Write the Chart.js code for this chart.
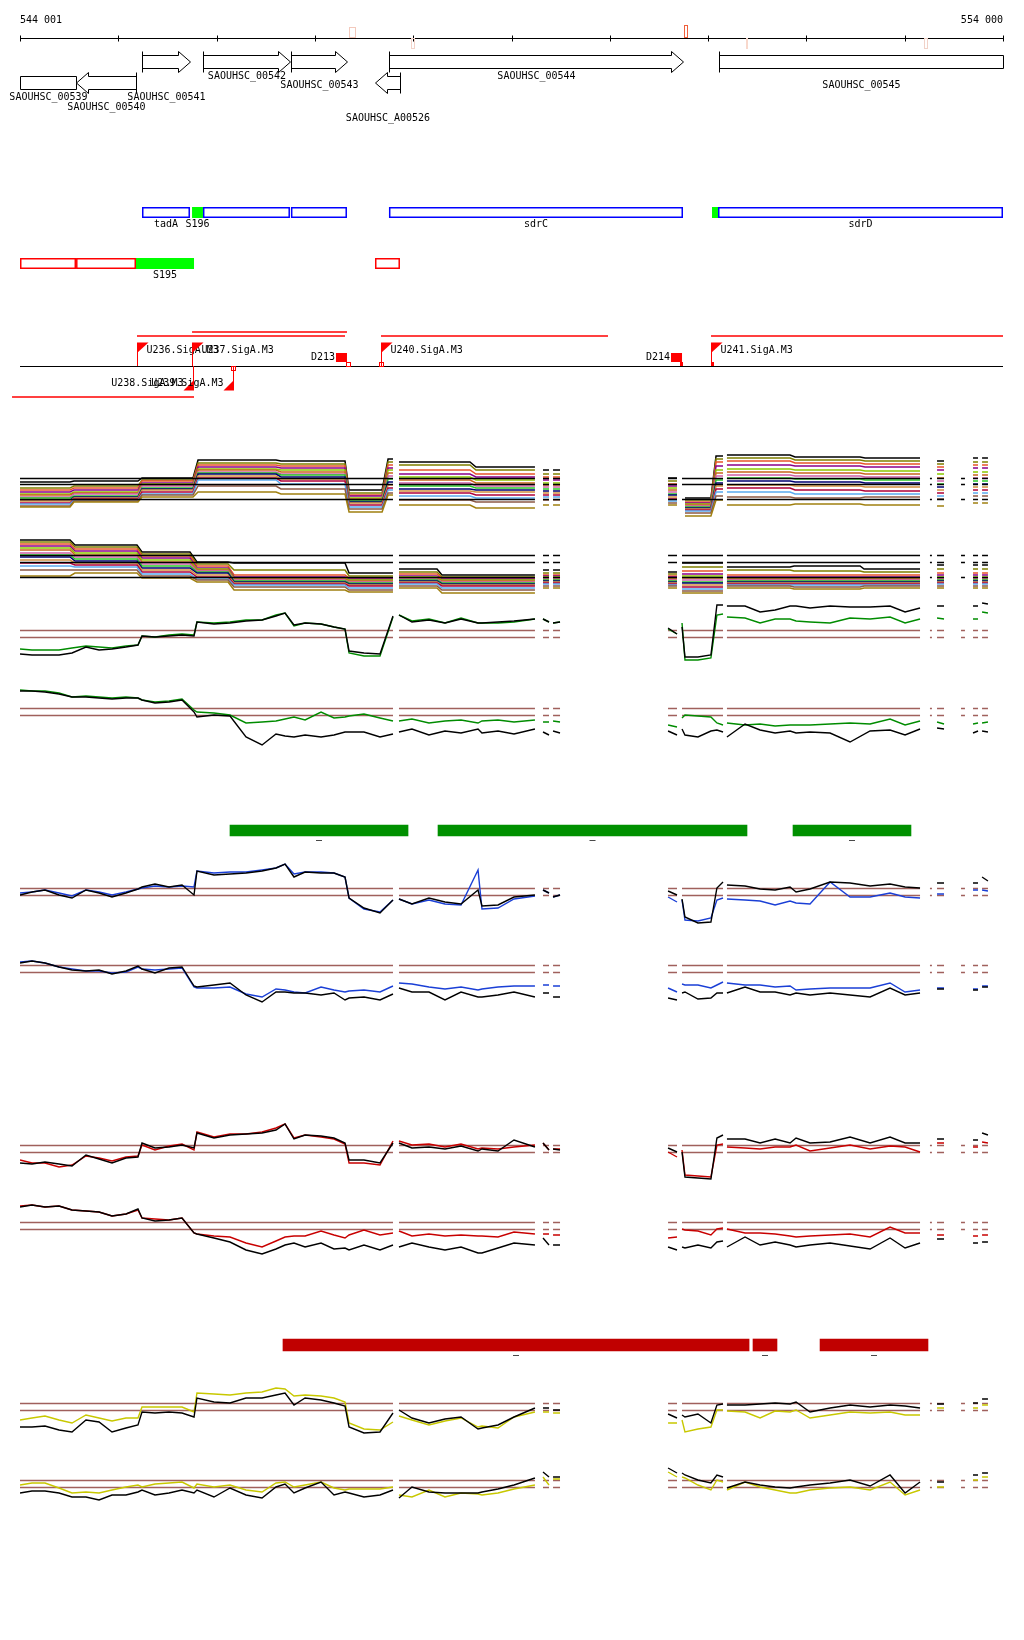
<!DOCTYPE html>
<html><head><meta charset="utf-8">
<script src="https://cdn.jsdelivr.net/npm/chart.js@4.4.1/dist/chart.umd.min.js"></script>
<style>html,body{margin:0;padding:0;background:#fff}#wrap{position:relative;width:1024px;height:1640px;background:#fff;overflow:hidden}</style>
</head><body><div id="wrap"></div>
<script>
// ---------------- DATA ----------------
const VIEW_START = 544001, VIEW_END = 554000;
const TICKS = [544001,545001,546001,547001,548001,549001,550001,551001,552001,553001,554000];
const TICK_LABELS = ['544 001','554 000'];
const RULER_MARK_START = [547348,547978,550755,551386,553196];
const RULER_MARK_END   = [547409,548008,550785,551407,553227];

const GENE_NAMES  = ['SAOUHSC_00539','SAOUHSC_00540','SAOUHSC_00541','SAOUHSC_00542','SAOUHSC_00543','SAOUHSC_A00526','SAOUHSC_00544','SAOUHSC_00545'];
const GENE_START  = [543800,544571,545242,545862,546757,547612,547754,551111];
const GENE_END    = [544571,545181,545730,546747,547327,547866,550745,554500];
const GENE_STRAND = ['.','-','+','+','+','-','+','+'];

const CDS_START = [545242,545751,545862,546757,547754,551040,551101];
const CDS_END   = [545730,545862,546747,547327,550745,551101,554000];
const CDS_KIND  = ['box','hit','box','box','box','hit','box'];
const CDS_LABEL = ['tadA','S196','','','sdrC','','sdrD'];

const UTR_START = [544001,544571,545181,547612];
const UTR_END   = [544571,545181,545771,547866];
const UTR_KIND  = ['box','box','hit','box'];
const UTR_LABEL = ['','','S195',''];

const TSS_NAME   = ['U236.SigA.M3','U237.SigA.M3','U240.SigA.M3','U241.SigA.M3','U238.SigA.M3','U239.SigA.M3'];
const TSS_POS    = [545191,545751,547673,551030,545761,546168];
const TSS_STRAND = ['+','+','+','+','-','-'];
const TERM_NAME  = ['D213','D214'];
const TERM_START = [547215,550623];
const TERM_END   = [547327,550735];
const TX_START   = [545751,545191,547673,551030,543920];
const TX_END     = [547327,547307,549982,554000,545771];
const TSS_MARK_POS = [547337,547673,550728,551040,546168];

const GREEN_BAR_START = [546137,548253,551864];
const GREEN_BAR_END   = [547948,551396,553064];
const GREEN_BAR_LABEL = ['–','–','–'];
const RED_BAR_START = [546676,551457,552139];
const RED_BAR_END   = [551417,551701,553237];
const RED_BAR_LABEL = ['–','–','–'];

// data-covered segments
const SEG_START = [544001,547856,549321,549423,550593,550735,551192,553257,553329,553573,553695,553787];
const SEG_END   = [547795,549239,549382,549494,550684,551152,553156,553277,553400,553613,553746,553847];

// probe positions for the profile tracks (null values = no data)
const POS = [
544001,544123,544255,544398,544530,544672,544805,544937,545079,545201,
545242,545374,545517,545649,545771,545801,545974,546137,546300,546463,
546605,546697,546788,546901,547063,547195,547307,547348,547500,547663,
547795,547826,547856,547988,548161,548324,548487,548660,548700,548863,
549026,549239,549280,549321,549382,549402,549423,549494,549901,550593,
550684,550715,550735,550765,550897,551029,551090,551152,551172,551192,
551376,551529,551682,551834,551895,552037,552241,552444,552648,552851,
553004,553156,553257,553329,553400,553563,553695,553746,553766,553787,
553847];

const G1 = [-12,-13,-13,-13,-11,-9,-10,-11,-9,-8, 1,0,2,3,2,15,14,15,17,17, 22,24,11,14,13,10,8,-16,-19,-19, 20,null,22,16,18,14,19,14,14,14, 15,18,null,18,15,null,14,15,null,8, 3,null,14,-23,-23,-21,22,23,null,20, 19,14,18,18,16,15,14,19,18,20, 14,18,null,19,18,null,18,18,null,25, 24];
const K1 = [-17,-18,-18,-18,-16,-10,-13,-12,-10,-8, 1,0,1,2,1,15,13,14,16,17, 21,24,12,14,13,10,8,-14,-16,-17, 21,null,22,15,17,14,18,14,14,15, 16,18,null,18,15,null,14,15,null,9, 3,null,10,-20,-20,-18,32,32,null,31, 31,25,27,31,31,29,31,30,30,31, 25,29,null,31,31,null,31,31,null,34, 33];
const G2 = [25,24,24,22,18,19,18,17,18,17, 15,13,14,16,5,3,2,0,-8,-7, -6,-4,-2,-5,3,-3,-2,-1,1,-3, -6,null,-6,-4,-8,-6,-5,-8,-6,-5, -7,-5,null,-7,-7,null,-6,-7,null,-10, -12,null,-3,0,-1,-2,-8,-10,null,-8, -10,-9,-11,-10,-10,-10,-9,-8,-9,-4, -10,-6,null,-7,-9,null,-9,-8,null,-8, -7];
const K2 = [24,24,23,21,18,18,17,16,17,17, 15,12,13,15,3,-2,0,-1,-22,-30, -19,-21,-22,-20,-22,-20,-17,-17,-17,-22, -19,null,-17,-14,-20,-16,-18,-14,-18,-16, -19,-14,null,-17,-20,null,-16,-18,null,-16, -20,null,-14,-20,-22,-16,-15,-17,null,-22, -9,-15,-18,-16,-18,-17,-18,-27,-16,-15, -20,-14,null,-13,-14,null,-18,-16,null,-16, -17];
const B1 = [2,3,5,2,-1,5,3,0,3,6, 7,9,8,9,8,24,22,23,23,25, 27,31,21,23,23,22,18,-3,-14,-17, -5,null,-4,-9,-5,-9,-10,25,-14,-13, -4,-1,null,5,2,null,-2,0,null,-2, -7,null,-5,-25,-26,-23,-5,-3,null,-4, -5,-6,-10,-6,-8,-9,13,-2,-2,2, -2,-3,null,1,1,null,5,5,null,5, 4];
const K5 = [0,3,5,0,-3,5,2,-2,2,6, 8,11,8,10,0,24,20,21,22,24, 27,31,18,23,22,22,18,-3,-13,-18, -5,null,-4,-9,-3,-7,-9,5,-11,-10, -2,0,null,5,2,null,-2,0,null,4, 0,null,-4,-22,-28,-27,7,13,null,10, 9,6,5,8,3,6,13,12,9,11, 8,7,null,12,12,null,12,12,null,18, 14];
const B2 = [10,11,9,5,3,1,1,-1,0,5, 3,2,3,4,-15,-16,-16,-15,-22,-25, -17,-18,-20,-21,-15,-18,-20,-19,-18,-20, -14,null,-11,-12,-15,-17,-15,-18,-17,-15, -14,-14,null,-13,-13,null,-14,-14,null,-16, -20,null,-12,-13,-13,-16,-13,-10,null,-11, -13,-13,-15,-14,-18,-17,-16,-16,-16,-11, -20,-18,null,-16,-16,null,-17,-17,null,-14, -14];
const K6 = [9,11,9,5,2,1,2,-2,1,6, 3,-1,4,5,-14,-15,-13,-11,-23,-30, -20,-20,-21,-21,-23,-21,-28,-26,-25,-28, -22,null,-16,-20,-20,-28,-20,-25,-25,-23, -20,-25,null,-21,-21,null,-25,-25,null,-26, -28,null,-21,-20,-27,-26,-21,-21,null,-21, -15,-20,-20,-23,-21,-23,-21,-23,-25,-16, -23,-21,null,-17,-17,null,-18,-18,null,-15, -15];
const R1 = [-8,-11,-11,-15,-13,-4,-6,-9,-5,-4, 7,2,6,8,2,20,15,18,18,20, 24,28,14,17,15,13,8,-11,-11,-13, 11,null,11,7,8,5,8,3,4,3, 5,7,null,9,2,null,3,3,null,0, -5,null,2,-23,-24,-25,7,8,null,5, 4,3,5,5,7,1,4,7,3,6, 5,0,null,9,9,null,5,5,null,10, 9];
const K7 = [-11,-12,-10,-12,-14,-3,-7,-11,-6,-5, 9,4,5,7,4,19,14,17,18,19, 22,28,13,17,16,14,9,-8,-8,-11, 9,null,9,4,5,3,6,1,3,1, 12,5,null,9,2,null,3,2,null,4, 0,null,0,-25,-26,-27,14,17,null,13, 13,9,13,9,14,9,10,15,9,15, 9,9,null,13,13,null,12,12,null,19, 17];
const R2 = [23,24,22,23,19,18,17,13,15,19, 11,10,9,11,-4,-5,-7,-8,-14,-18, -12,-8,-7,-7,-2,-6,-9,-6,-1,-6, -4,null,-2,-7,-5,-7,-6,-7,-7,-8, -3,-5,null,-5,-5,null,-6,-6,null,-9, -8,null,0,-1,-2,-6,0,1,null,0, -4,-4,-5,-7,-8,-7,-6,-5,-8,2, -4,-4,null,-6,-6,null,-7,-7,null,-6, -6];
const K8 = [22,24,22,23,19,18,17,13,15,20, 11,8,9,11,-4,-5,-9,-13,-21,-25, -20,-16,-14,-18,-14,-20,-19,-21,-16,-21, -16,null,-18,-14,-18,-21,-18,-24,-24,-19, -14,-16,null,-9,-16,null,-16,-16,null,-18, -21,null,-18,-19,-16,-19,-13,-12,null,-18, -8,-16,-13,-16,-18,-16,-14,-17,-20,-9, -19,-14,null,-10,-10,null,-14,-14,null,-13, -13];
const Y1 = [-10,-8,-6,-10,-13,-5,-8,-11,-8,-8, 3,3,3,3,-2,17,16,15,17,18, 22,21,14,15,14,12,8,-13,-19,-20, -12,null,-6,-10,-15,-11,-8,-17,-16,-18, -7,-2,null,-2,-2,null,-3,-3,null,-13, -13,null,-10,-22,-19,-17,0,0,null,-1, -2,-8,-1,-2,0,-8,-5,-2,-3,-2, -5,-5,null,2,2,null,2,2,null,5, 5];
const K9 = [-17,-17,-16,-20,-22,-10,-12,-22,-18,-15, -2,-3,-2,-3,-7,12,8,7,12,12, 15,17,5,12,10,7,4,-17,-23,-22, -3,null,0,-8,-13,-9,-7,-19,-18,-15, -7,2,null,2,2,null,0,0,null,-4, -8,null,-5,-7,-4,-13,5,6,null,5, 5,6,7,6,8,-2,2,5,3,5, 4,2,null,6,6,null,7,7,null,11, 11];
const Y2 = [2,4,4,-1,-6,-5,-6,-3,0,2, 0,3,4,5,-1,3,0,2,-3,-5, 4,5,0,2,5,-1,-3,-2,-2,-2, 0,null,-8,-10,-3,-10,-6,-7,-8,-6, -2,2,null,10,2,null,8,8,null,15, 10,null,10,9,2,-3,7,5,null,-3, 5,0,-3,-6,-6,-3,-1,0,-3,5, -8,-3,null,0,0,null,7,7,null,10, 10];
const K10 = [-6,-4,-4,-6,-10,-10,-13,-8,-8,-5, -3,-8,-6,-3,-6,-3,-10,-1,-8,-11, 0,3,-6,-1,5,-8,-5,-6,-10,-8, -3,null,-11,0,-5,-6,-6,-6,-5,-2, 2,9,null,15,10,null,10,10,null,19, 14,null,14,12,7,4,12,10,null,-1, 5,2,0,-1,0,2,4,7,1,12, -6,5,null,5,5,null,12,12,null,14, 14];

// multi-sample tracks: one level per region
const REG1_START = [544001,544550,545242,545812,546656,547348,547745,547856,548639,549321,549423,550593,550765,551081,551192,551885,552597,553329,553695,553787];
const REG1_END   = [544510,545201,545761,546605,547307,547684,547795,548578,549239,549382,549494,550684,551029,551152,551834,552546,553156,553400,553746,553847];
const REG1_SEG   = [0,0,0,0,0,0,0,1,1,2,3,4,5,5,6,6,6,7,8,9];
const MULTI1 = [
[17,18,21,39,38,9,40,37,32,29,29,21,1,43,44,42,41,38,41,41],
[11,13,19,36,35,6,37,34,29,25,25,18,-1,40,41,39,38,35,37,37],
[9,11,18,34,33,4,34,29,25,22,22,15,-3,37,38,36,35,32,34,34],
[7,9,16,32,31,3,31,25,22,19,19,13,-4,33,34,33,32,29,31,31],
[5,7,15,30,29,1,29,22,19,16,16,11,-5,29,30,29,28,25,27,27],
[4,6,14,29,27,0,26,19,16,14,14,9,-6,26,27,26,25,21,24,24],
[2,5,13,27,25,-1,23,16,13,12,12,7,-7,23,24,23,22,18,21,21],
[1,3,11,26,24,-2,20,13,11,10,10,5,-8,19,21,20,19,15,18,18],
[-1,2,10,25,22,-3,17,10,9,8,8,4,-9,16,18,17,16,12,15,15],
[-2,1,9,23,20,-4,14,8,7,6,6,2,-10,13,14,13,12,9,12,12],
[-4,0,7,21,18,-6,11,6,4,4,4,0,-11,10,11,9,8,6,9,9],
[-5,-1,5,19,15,-8,9,3,1,2,2,-2,-12,7,7,5,5,3,6,6],
[-7,-2,4,13,10,-10,6,-1,-3,-1,-1,-4,-14,3,2,1,2,0,3,3],
[-8,-3,2,7,5,-13,4,-6,-9,-6,-6,-6,-17,-1,-6,-5,-6,-7,-4,-4]];
const REG2_START = [544001,544560,545242,545801,546178,547348,547856,548293,549321,549423,550593,550735,551192,551875,552587,553329,553695,553787];
const REG2_END   = [544510,545191,545730,546117,547307,547795,548243,549239,549382,549494,550684,551152,551834,552546,553156,553400,553746,553847];
const REG2_SEG   = [0,0,0,0,0,0,1,1,2,3,4,5,6,6,6,7,8,9];
const MULTI2 = [
[37,32,25,15,14,4,8,2,7,7,5,14,10,11,8,12,12,12],
[35,30,23,13,7,1,5,0,4,4,3,10,7,6,5,8,8,8],
[33,28,21,11,2,-1,3,-1,2,2,1,6,2,2,2,4,4,4],
[31,26,19,9,0,-2,1,-2,1,1,0,3,0,0,0,2,2,2],
[29,24,17,8,-1,-3,0,-3,0,0,-1,1,-1,-1,-1,0,0,0],
[27,22,15,7,-2,-4,-1,-4,-1,-1,-2,-1,-2,-2,-2,-1,-1,-1],
[24,20,13,6,-3,-5,-2,-5,-2,-2,-3,-3,-3,-3,-3,-2,-2,-2],
[22,18,11,5,-4,-6,-3,-6,-3,-3,-4,-5,-4,-4,-4,-3,-3,-3],
[20,16,9,4,-5,-7,-4,-7,-4,-4,-5,-6,-5,-5,-5,-4,-4,-4],
[17,14,7,2,-6,-8,-5,-8,-5,-5,-6,-8,-6,-6,-6,-5,-5,-5],
[14,12,5,0,-7,-9,-6,-9,-6,-6,-7,-10,-7,-7,-7,-6,-6,-6],
[11,10,3,-2,-8,-11,-7,-11,-7,-7,-8,-12,-8,-8,-8,-7,-7,-7],
[7,7,1,-3,-10,-13,-9,-13,-9,-9,-9,-14,-9,-10,-9,-9,-9,-9],
[1,4,-1,-5,-13,-15,-11,-16,-11,-11,-11,-16,-11,-12,-11,-11,-11,-11]];
const MULTI1_REFS = [0,15,21];
const MULTI2_REFS = [0,15,22];
const PAIR_REFS = [0,7];

// ---------------- LAYOUT / STYLE ----------------
const FONT = '10px "DejaVu Sans Mono", monospace';
const MULTI_COLORS = ['#000000','#808000','#e8542a','#8b008b','#8cc800','#c8641e','#d060a8','#28c828','#000070','#d29040','#b0003a','#5aaaf0','#8c5a46','#a08010'];
const GENE_LABEL_Y = [97,107,97,76,85,118,76,85];
const TX_Y = [332,336,336,336,397];
const RULER_MARK_STYLE = [
 {y0:27,y1:38,stroke:'#f3c9bc'},{y0:38,y1:49,stroke:'#f3d3c9'},{y0:25,y1:38,stroke:'#f0603c'},
 {y0:38,y1:49,fill:'#f8d8cc'},{y0:38,y1:49,stroke:'#f1d2c8'}];
const TSS_MARK_STYLE = [{fill:false,up:true},{fill:false,up:true},{fill:true,up:true},{fill:true,up:true},{fill:false,up:false}];

const wrap = document.getElementById('wrap');
function panel(top, height, config){
  const c = document.createElement('canvas');
  c.width = 1024; c.height = height;
  c.style.cssText = 'position:absolute;left:0;top:'+top+'px;width:1024px;height:'+height+'px';
  wrap.appendChild(c);
  return new Chart(c, config);
}
function baseOpts(ymin, ymax){
  return {
    responsive:false, animation:false, devicePixelRatio:1, events:[],
    layout:{padding:{left:20,right:21,top:0,bottom:0}},
    scales:{x:{type:'linear',min:VIEW_START,max:VIEW_END,display:false},
            y:{type:'linear',min:ymin,max:ymax,display:false}},
    plugins:{legend:{display:false},tooltip:{enabled:false}},
    elements:{point:{radius:0},line:{tension:0,borderWidth:1}}
  };
}
function drawRefs(chart,o){
  const {ctx, scales:{x,y}} = chart;
  ctx.save(); ctx.strokeStyle=o.color; ctx.lineWidth=o.width;
  o.values.forEach(v=>{
    const py = Math.round(y.getPixelForValue(v)) + 0.5;
    ctx.beginPath();
    SEG_START.forEach((s,i)=>{ctx.moveTo(x.getPixelForValue(s),py);ctx.lineTo(x.getPixelForValue(SEG_END[i]),py);});
    ctx.stroke();
  });
  ctx.restore();
}
const refPlugin = {id:'refs',
  beforeDatasetsDraw(c,a,o){ if(o && o.values && !o.front) drawRefs(c,o); },
  afterDatasetsDraw(c,a,o){ if(o && o.values && o.front) drawRefs(c,o); }};

function pts(vals){ return POS.map((p,i)=>({x:p,y:vals[i]})); }
function stepPts(starts, ends, segs, vals){
  const out=[];
  starts.forEach((s,i)=>{
    if(i>0 && segs[i-1]!==segs[i]) out.push({x:(ends[i-1]+s)/2,y:null});
    out.push({x:s,y:vals[i]},{x:ends[i],y:vals[i]});
  });
  return out;
}

// ---------- annotation panel ----------
const annotPlugin = {id:'annot', afterDraw(chart){
  const ctx=chart.ctx, xs=chart.scales.x, L=chart.chartArea.left, R=chart.chartArea.right;
  const X=v=>xs.getPixelForValue(v), S=v=>Math.round(X(v))+0.5;
  ctx.save(); ctx.font=FONT; ctx.textBaseline='middle'; ctx.fillStyle='#000'; ctx.strokeStyle='#000'; ctx.lineWidth=1;
  // ruler
  const ry=38.5;
  ctx.beginPath(); ctx.moveTo(S(TICKS[0]),ry); ctx.lineTo(S(TICKS[TICKS.length-1]),ry);
  TICKS.forEach(t=>{ctx.moveTo(S(t),ry-3);ctx.lineTo(S(t),ry+3);}); ctx.stroke();
  ctx.textAlign='left'; ctx.fillText(TICK_LABELS[0],X(TICKS[0]),20);
  ctx.textAlign='right'; ctx.fillText(TICK_LABELS[1],X(TICKS[TICKS.length-1]),20);
  RULER_MARK_START.forEach((s,i)=>{
    const st=RULER_MARK_STYLE[i], x0=Math.round(X(s)), x1=Math.round(X(RULER_MARK_END[i]));
    if(st.fill){ctx.fillStyle=st.fill; ctx.fillRect(x0,st.y0,Math.max(2,x1-x0),st.y1-st.y0);}
    else {ctx.strokeStyle=st.stroke; ctx.strokeRect(x0+0.5,st.y0+0.5,Math.max(2,x1-x0),st.y1-st.y0-1);}
  });
  ctx.fillStyle='#000'; ctx.strokeStyle='#000';
  // genes
  const H=12;
  const lanes={'+':{top:51.5,bt:55.5,bb:68.5,bot:72.5,mid:62}, '-':{top:72.5,bt:76.5,bb:89.5,bot:93.5,mid:83}};
  GENE_NAMES.forEach((nm,i)=>{
    const xs0=X(GENE_START[i]), xe0=X(GENE_END[i]);
    const sIn=xs0>=L-0.5, eIn=xe0<=R+0.5;
    const s=Math.round(Math.max(xs0,L))+0.5, e=Math.round(Math.min(xe0,R))+0.5;
    const st=GENE_STRAND[i], ln=lanes[st==='+'?'+':'-'];
    ctx.beginPath();
    if(st==='+' && eIn){
      ctx.moveTo(s,ln.bt);ctx.lineTo(e-H,ln.bt);ctx.lineTo(e-H,ln.top);ctx.lineTo(e,ln.mid);ctx.lineTo(e-H,ln.bot);ctx.lineTo(e-H,ln.bb);ctx.lineTo(s,ln.bb);ctx.closePath();
    } else if(st==='-' && sIn){
      ctx.moveTo(s,ln.mid);ctx.lineTo(s+H,ln.top);ctx.lineTo(s+H,ln.bt);ctx.lineTo(e,ln.bt);ctx.lineTo(e,ln.bb);ctx.lineTo(s+H,ln.bb);ctx.lineTo(s+H,ln.bot);ctx.closePath();
    } else { ctx.rect(s,ln.bt,e-s,ln.bb-ln.bt); }
    ctx.fillStyle='#fff'; ctx.fill(); ctx.stroke();
    if(st==='+' && sIn){ctx.beginPath();ctx.moveTo(s,ln.top);ctx.lineTo(s,ln.bot);ctx.stroke();}
    if(st==='-' && eIn){ctx.beginPath();ctx.moveTo(e,ln.top);ctx.lineTo(e,ln.bot);ctx.stroke();}
    ctx.fillStyle='#000'; ctx.textAlign='center'; ctx.fillText(nm,(s+e)/2,GENE_LABEL_Y[i]);
  });
  // feature boxes
  function boxes(starts,ends,kinds,labels,color,y0,y1,ly){
    starts.forEach((sv,i)=>{
      const s=X(sv), e=Math.min(X(ends[i]),R);
      if(kinds[i]==='hit'){ctx.fillStyle='#00ff00'; ctx.fillRect(s,y0,e-s,y1-y0);}
      else {ctx.strokeStyle=color; ctx.lineWidth=1.5; ctx.strokeRect(s+0.75,y0+0.75,e-s-1.5,y1-y0-1.5);}
      if(labels[i]){ctx.fillStyle='#000'; ctx.textAlign='center'; ctx.fillText(labels[i],(s+e)/2,ly);}
    });
    ctx.lineWidth=1;
  }
  boxes(CDS_START,CDS_END,CDS_KIND,CDS_LABEL,'#0000ff',207,218,224);
  boxes(UTR_START,UTR_END,UTR_KIND,UTR_LABEL,'#ff0000',258,269,275);
  // transcription track
  ctx.strokeStyle='#000'; ctx.lineWidth=1.2; ctx.beginPath(); ctx.moveTo(L,366.5); ctx.lineTo(R,366.5); ctx.stroke();
  ctx.strokeStyle='#ff0000'; ctx.fillStyle='#ff0000'; ctx.lineWidth=1.5;
  TX_START.forEach((s,i)=>{ctx.beginPath();ctx.moveTo(X(s),TX_Y[i]);ctx.lineTo(X(TX_END[i]),TX_Y[i]);ctx.stroke();});
  ctx.lineWidth=1;
  TSS_POS.forEach((p,i)=>{
    const x=Math.round(X(p))+0.5;
    ctx.fillStyle='#ff0000'; ctx.strokeStyle='#ff0000';
    if(TSS_STRAND[i]==='+'){
      ctx.beginPath();ctx.moveTo(x,343);ctx.lineTo(x,366);ctx.stroke();
      ctx.beginPath();ctx.moveTo(x-0.5,342.5);ctx.lineTo(x+11,342.5);ctx.lineTo(x-0.5,353);ctx.closePath();ctx.fill();
      ctx.fillStyle='#000';ctx.textAlign='left';ctx.fillText(TSS_NAME[i],x+9,350);
    } else {
      ctx.beginPath();ctx.moveTo(x,366);ctx.lineTo(x,390);ctx.stroke();
      ctx.beginPath();ctx.moveTo(x+0.5,380);ctx.lineTo(x+0.5,390.5);ctx.lineTo(x-10,390.5);ctx.closePath();ctx.fill();
      ctx.fillStyle='#000';ctx.textAlign='right';ctx.fillText(TSS_NAME[i],x-10,383);
    }
  });
  TERM_START.forEach((s,i)=>{
    const x0=X(s), x1=X(TERM_END[i]);
    ctx.fillStyle='#ff0000'; ctx.fillRect(x0,353,x1-x0,9);
    ctx.fillStyle='#000'; ctx.textAlign='right'; ctx.fillText(TERM_NAME[i],x0-1,357.5);
  });
  TSS_MARK_POS.forEach((p,i)=>{
    const st=TSS_MARK_STYLE[i], x=Math.round(X(p));
    const y0=st.up?362:366;
    ctx.strokeStyle='#ff0000'; ctx.fillStyle='#ff0000';
    if(st.fill) ctx.fillRect(x-1,y0,3,4); else ctx.strokeRect(x-1.5,y0+0.5,4,4);
  });
  ctx.restore();
}};
panel(0,420,{type:'line',data:{datasets:[]},options:baseOpts(0,420),plugins:[annotPlugin]});

// ---------- multi-sample tracks ----------
function multiPanel(base,ymax,ymin,starts,ends,segs,lines,refs){
  const ds = lines.map((v,i)=>({data:stepPts(starts,ends,segs,v),borderColor:MULTI_COLORS[i],borderWidth:1.5,spanGaps:false})).reverse();
  const o=baseOpts(ymin,ymax); o.plugins.refs={values:refs,color:'#000',width:1.6,front:true};
  panel(base-ymax,ymax-ymin,{type:'line',data:{datasets:ds},options:o,plugins:[refPlugin]});
}
multiPanel(499,50,-25,REG1_START,REG1_END,REG1_SEG,MULTI1,MULTI1_REFS);
multiPanel(577,45,-20,REG2_START,REG2_END,REG2_SEG,MULTI2,MULTI2_REFS);

// ---------- paired profile tracks ----------
function pairPanel(base,ymax,ymin,col,colVals,blkVals){
  const o=baseOpts(ymin,ymax); o.plugins.refs={values:PAIR_REFS,color:'#a0605c',width:1.5,front:false};
  panel(base-ymax,ymax-ymin,{type:'line',data:{datasets:[
    {data:pts(blkVals),borderColor:'#000',borderWidth:1.4,spanGaps:false},
    {data:pts(colVals),borderColor:col,borderWidth:1.4,spanGaps:false}]},options:o,plugins:[refPlugin]});
}
pairPanel(637,40,-30,'#008c00',G1,K1);
pairPanel(715,32,-35,'#008c00',G2,K2);
pairPanel(895,36,-32,'#1a3fd6',B1,K5);
pairPanel(972,16,-34,'#1a3fd6',B2,K6);
pairPanel(1152,32,-32,'#c80000',R1,K7);
pairPanel(1229,28,-30,'#c80000',R2,K8);
pairPanel(1410,26,-28,'#c8c800',Y1,K9);
pairPanel(1487,22,-18,'#c8c800',Y2,K10);

// ---------- region bars ----------
const dashPlugin={id:'dash',afterDatasetsDraw(chart,a,o){
  const ctx=chart.ctx,x=chart.scales.x; ctx.save(); ctx.font=FONT; ctx.fillStyle='#000'; ctx.textAlign='center'; ctx.textBaseline='middle';
  o.starts.forEach((s,i)=>ctx.fillText(o.labels[i],(x.getPixelForValue(s)+x.getPixelForValue(o.ends[i]))/2,o.y));
  ctx.restore();}};
function barPanel(top,height,thick,starts,ends,labels,color,dashY){
  const o=baseOpts(0,1); o.indexAxis='y';
  o.scales={x:{type:'linear',min:VIEW_START,max:VIEW_END,display:false},y:{type:'category',display:false}};
  o.plugins.dash={starts,ends,labels,y:dashY};
  panel(top,height,{type:'bar',data:{labels:['r'],datasets:starts.map((s,i)=>({data:[[s,ends[i]]],backgroundColor:color,barThickness:thick,grouped:false,borderWidth:0}))},options:o,plugins:[dashPlugin]});
}
barPanel(816,29,11,GREEN_BAR_START,GREEN_BAR_END,GREEN_BAR_LABEL,'#009000',24);
barPanel(1331,28,12,RED_BAR_START,RED_BAR_END,RED_BAR_LABEL,'#c00000',24);
</script></body></html>
